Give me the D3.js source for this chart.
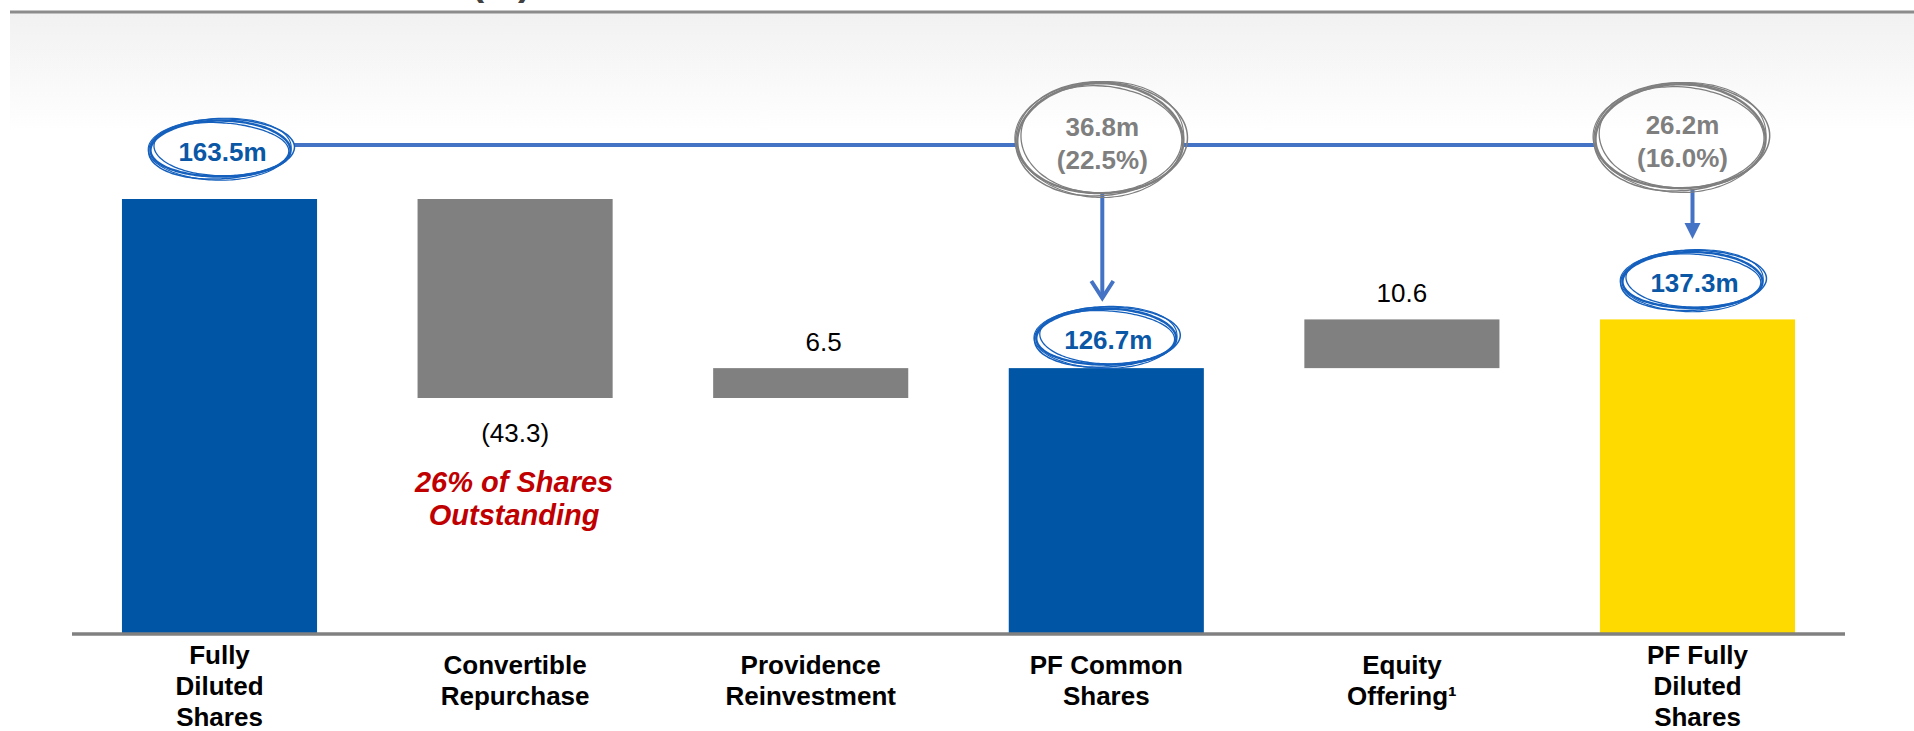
<!DOCTYPE html>
<html>
<head>
<meta charset="utf-8">
<script src="https://cdn.jsdelivr.net/npm/d3@7"></script>
<style>
  html, body { margin: 0; padding: 0; background: #fff; }
  svg { display: block; font-family: "Liberation Sans", Arial, sans-serif; }
</style>
</head>
<body>
<div id="chart"></div>
<script>
// Data
const categories = ["Fully Diluted Shares", "Convertible Repurchase", "Providence Reinvestment",
                    "PF Common Shares", "Equity Offering", "PF Fully Diluted Shares"];
const categoryLines = [["Fully", "Diluted", "Shares"], ["Convertible", "Repurchase"], ["Providence", "Reinvestment"],
                       ["PF Common", "Shares"], ["Equity", "Offering\u00b9"], ["PF Fully", "Diluted", "Shares"]];
const values = [163.5, -43.3, 6.5, 126.7, 10.6, 137.3];
const kinds = ["total", "delta", "delta", "total", "delta", "total"];
const valueLabels = ["163.5m", "(43.3)", "6.5", "126.7m", "10.6", "137.3m"];
const reductionTargets = ["PF Common Shares", "PF Fully Diluted Shares"];
const reductionValues = ["36.8m", "26.2m"];
const reductionPcts = ["(22.5%)", "(16.0%)"];
const noteLines = ["26% of Shares", "Outstanding"];

// Chart Dimensions
const W = 1914, H = 731;
const baseY = 634;

const svg = d3.select("#chart").append("svg")
    .attr("width", W).attr("height", H)
    .attr("viewBox", `0 0 ${W} ${H}`);

// Header band
const defs = svg.append("defs");
const grad = defs.append("linearGradient").attr("id", "hdr")
    .attr("x1", 0).attr("y1", 0).attr("x2", 0).attr("y2", 1);
grad.append("stop").attr("offset", "0%").attr("stop-color", "#f1f1f1");
grad.append("stop").attr("offset", "100%").attr("stop-color", "#ffffff");
svg.append("rect").attr("x", 10).attr("y", 13).attr("width", W - 10).attr("height", 120)
    .attr("fill", "url(#hdr)");
svg.append("line").attr("x1", 10).attr("x2", W).attr("y1", 12).attr("y2", 12)
    .attr("stroke", "#8c8c8c").attr("stroke-width", 3);
svg.append("text").attr("x", 501).attr("y", -5.5).attr("text-anchor", "middle")
    .attr("font-size", 38).attr("font-weight", "bold").attr("fill", "#404040").text("(m)");

// Waterfall table
let running = 0;
const rows = categories.map((c, i) => {
    let y0, y1;
    if (kinds[i] === "total") { y0 = null; y1 = values[i]; running = values[i]; }
    else { y0 = running; y1 = running + values[i]; running = y1; }
    return { cat: c, lines: categoryLines[i], kind: kinds[i], value: values[i], y0, y1, label: valueLabels[i], i };
});

// Scales (value axis is truncated in the original)
const x = d3.scaleBand().domain(categories).range([72, 1845])
    .paddingInner(0.34).paddingOuter(0.169);
const y = d3.scaleLinear().domain([68.85, 163.5]).range([baseY, 199]);

const fills = ["#0055a4", "#808080", "#808080", "#0055a4", "#808080", "#ffda00"];

// Bars
svg.selectAll(".bar").data(rows).enter().append("rect")
    .attr("class", "bar")
    .attr("x", d => x(d.cat))
    .attr("width", x.bandwidth())
    .attr("y", d => d.kind === "total" ? y(d.y1) : y(Math.max(d.y0, d.y1)))
    .attr("height", d => d.kind === "total" ? baseY - y(d.y1) : Math.abs(y(d.y0) - y(d.y1)))
    .attr("fill", (d, i) => fills[i]);

// Baseline axis
svg.append("g").attr("transform", `translate(0,${baseY})`)
    .call(d3.axisBottom(x).tickSize(0).tickFormat(""))
    .call(g => g.select(".domain").attr("stroke", "#808080").attr("stroke-width", 3.5))
    .call(g => g.select(".domain").attr("d", "M72,0H1845"));

// Category labels
const catG = svg.append("g").attr("font-weight", "bold").attr("font-size", 26).attr("fill", "#000");
rows.forEach(d => {
    const first = d.lines.length === 3 ? 664 : 674;
    const t = catG.append("text").attr("text-anchor", "middle")
        .attr("x", x(d.cat) + x.bandwidth() / 2);
    d.lines.forEach((ln, k) => {
        t.append("tspan").attr("x", x(d.cat) + x.bandwidth() / 2)
            .attr("y", first + k * 31).text(ln);
    });
});

// Delta labels
rows.filter(d => d.kind === "delta").forEach(d => {
    const cx = x(d.cat) + x.bandwidth() / 2;
    const ty = d.value < 0 ? y(d.y1) + 44 : y(d.y1) - 17;
    svg.append("text").attr("x", cx + (d.i === 2 ? 13 : 0)).attr("y", ty)
        .attr("text-anchor", "middle").attr("font-size", 26).attr("fill", "#000")
        .text(d.label);
});

// Note under the repurchase bar
const noteCat = rows[1];
const note = svg.append("text").attr("text-anchor", "middle")
    .attr("font-size", 29).attr("font-weight", "bold").attr("font-style", "italic").attr("fill", "#c00000");
noteLines.forEach((ln, k) => {
    note.append("tspan").attr("x", x(noteCat.cat) + x.bandwidth() / 2 - 1)
        .attr("y", y(noteCat.y1) + 94 + k * 33).text(ln);
});

// Hand-drawn ellipse
const passes = [
    { a0: 3.30, drx: 0, dry: 0, rot: 0, w: 2.4, ph: 0 },
    { a0: 2.95, drx: 3, dry: 2, rot: -2, w: 1.5, ph: 1.3 },
    { a0: 3.55, drx: -2.5, dry: -1.5, rot: 2.5, w: 1.3, ph: 2.1 },
    { a0: 2.75, drx: 1.5, dry: 3, rot: -1, w: 1.1, ph: 4.0 }
];
const sketchLine = d3.line().curve(d3.curveBasis);
function sketchEllipse(g, cx, cy, rx, ry, color) {
    passes.forEach(p => {
        const pts = [];
        const r = p.rot * Math.PI / 180;
        for (let k = 0; k <= 100; k++) {
            const t = p.a0 + (k / 100) * Math.PI * 2.06;
            const f = 1 + 0.015 * Math.sin(3 * t + p.ph);
            const ex = (rx + p.drx) * Math.cos(t) * f;
            const ey = (ry + p.dry) * Math.sin(t) * f;
            pts.push([cx + ex * Math.cos(r) - ey * Math.sin(r), cy + ex * Math.sin(r) + ey * Math.cos(r)]);
        }
        g.append("path").attr("d", sketchLine(pts)).attr("fill", "none")
            .attr("stroke", color).attr("stroke-width", p.w).attr("stroke-linecap", "round");
    });
}

const lineBlue = "#4472c4";
const lineY = 145;
const redX = reductionTargets.map(c => x(c) + x.bandwidth() / 2);
const redCx = [redX[0] - 6, redX[1] - 17];
const redCy = [139, 137];
const redR = [[83, 55], [85, 52]];

// Connector line
svg.append("line").attr("x1", 294).attr("x2", redCx[0] - redR[0][0])
    .attr("y1", lineY).attr("y2", lineY).attr("stroke", lineBlue).attr("stroke-width", 4);
svg.append("line").attr("x1", redCx[0] + redR[0][0]).attr("x2", redCx[1] - redR[1][0])
    .attr("y1", lineY).attr("y2", lineY).attr("stroke", lineBlue).attr("stroke-width", 4);

// Arrows down to the totals
const tips = [298, 239];
redCx.forEach((cx, i) => {
    const ax = redX[i] - (i === 0 ? 4 : 5);
    svg.append("line").attr("x1", ax).attr("x2", ax)
        .attr("y1", redCy[i] + redR[i][1]).attr("y2", i === 0 ? tips[i] - 1 : tips[i] - 14)
        .attr("stroke", lineBlue).attr("stroke-width", 4);
    if (i === 0) {
        svg.append("path").attr("d", `M${ax - 11},${tips[i] - 17}L${ax},${tips[i]}L${ax + 11},${tips[i] - 17}`)
            .attr("fill", "none").attr("stroke", lineBlue).attr("stroke-width", 4);
    } else {
        svg.append("path").attr("d", `M${ax - 8},${tips[i] - 16}L${ax},${tips[i]}L${ax + 8},${tips[i] - 16}Z`)
            .attr("fill", lineBlue);
    }
});

// Reduction ellipses
redCx.forEach((cx, i) => {
    const g = svg.append("g");
    sketchEllipse(g, cx, redCy[i], redR[i][0], redR[i][1], "#7f7f7f");
    const t = g.append("text").attr("text-anchor", "middle").attr("font-size", 26)
        .attr("font-weight", "bold").attr("fill", "#7f7f7f");
    t.append("tspan").attr("x", cx + 2).attr("y", redCy[i] - 3).text(reductionValues[i]);
    t.append("tspan").attr("x", cx + 2).attr("y", redCy[i] + 30).text(reductionPcts[i]);
});

// Total ellipses
const totalOffsets = { 0: null, 3: 31, 5: 39 };
rows.filter(d => d.kind === "total").forEach(d => {
    const cx = x(d.cat) + x.bandwidth() / 2 + (d.i === 0 ? 1 : (d.i === 3 ? 0 : -5));
    const cy = d.i === 0 ? lineY + 4 : y(d.y1) - totalOffsets[d.i];
    const g = svg.append("g");
    sketchEllipse(g, cx, cy, 70, 28, "#1560bd");
    g.append("text").attr("x", cx + 2).attr("y", cy + 12).attr("text-anchor", "middle")
        .attr("font-size", 26).attr("font-weight", "bold").attr("fill", "#0a57a6")
        .text(d.label);
});
</script>
</body>
</html>
